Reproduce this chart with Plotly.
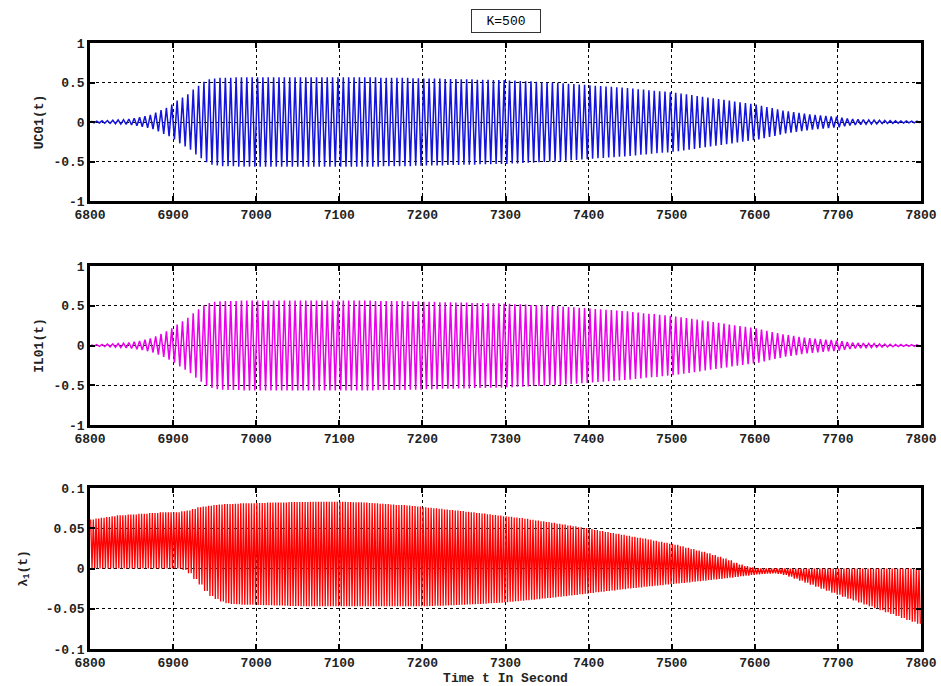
import numpy as np
import plotly.graph_objects as go

# ---- data (peak amplitude per oscillation cycle) ----
T_START = 6800.0
T_END = 7800.0
N_CYCLES = 155

uc01_amp = [
    0.010, 0.012, 0.015, 0.018, 0.022, 0.026, 0.030, 0.038, 0.047, 0.060,
    0.075, 0.090, 0.120, 0.150, 0.180, 0.220, 0.270, 0.310, 0.350, 0.410,
    0.460, 0.510, 0.540, 0.550, 0.560, 0.560, 0.560, 0.565, 0.565, 0.565,
    0.565, 0.565, 0.565, 0.565, 0.565, 0.565, 0.565, 0.565, 0.565, 0.565,
    0.565, 0.565, 0.565, 0.565, 0.565, 0.565, 0.565, 0.565, 0.565, 0.565,
    0.565, 0.565, 0.565, 0.565, 0.560, 0.560, 0.560, 0.560, 0.560, 0.560,
    0.555, 0.555, 0.550, 0.550, 0.550, 0.550, 0.545, 0.545, 0.545, 0.540,
    0.540, 0.540, 0.535, 0.535, 0.535, 0.530, 0.530, 0.530, 0.525, 0.525,
    0.520, 0.515, 0.515, 0.510, 0.505, 0.500, 0.500, 0.495, 0.490, 0.485,
    0.480, 0.475, 0.470, 0.465, 0.460, 0.455, 0.450, 0.445, 0.440, 0.435,
    0.430, 0.425, 0.415, 0.410, 0.400, 0.395, 0.390, 0.385, 0.375, 0.370,
    0.360, 0.350, 0.340, 0.330, 0.320, 0.310, 0.300, 0.290, 0.280, 0.270,
    0.260, 0.250, 0.240, 0.230, 0.220, 0.205, 0.190, 0.175, 0.160, 0.145,
    0.135, 0.125, 0.115, 0.105, 0.097, 0.090, 0.083, 0.077, 0.072, 0.066,
    0.055, 0.045, 0.038, 0.033, 0.030, 0.027, 0.024, 0.021, 0.019, 0.017,
    0.015, 0.013, 0.012, 0.011, 0.010,
]

il01_amp = [
    0.009, 0.011, 0.014, 0.017, 0.021, 0.025, 0.030, 0.037, 0.046, 0.058,
    0.072, 0.088, 0.115, 0.145, 0.178, 0.215, 0.265, 0.305, 0.350, 0.405,
    0.455, 0.505, 0.535, 0.550, 0.555, 0.560, 0.560, 0.560, 0.565, 0.565,
    0.565, 0.565, 0.565, 0.565, 0.565, 0.565, 0.565, 0.565, 0.565, 0.565,
    0.565, 0.565, 0.565, 0.565, 0.565, 0.565, 0.565, 0.565, 0.565, 0.565,
    0.565, 0.565, 0.565, 0.560, 0.560, 0.560, 0.560, 0.560, 0.560, 0.555,
    0.555, 0.555, 0.550, 0.550, 0.550, 0.545, 0.545, 0.545, 0.540, 0.540,
    0.540, 0.535, 0.535, 0.535, 0.530, 0.530, 0.530, 0.525, 0.525, 0.520,
    0.520, 0.515, 0.510, 0.510, 0.505, 0.500, 0.495, 0.495, 0.490, 0.485,
    0.480, 0.475, 0.470, 0.465, 0.460, 0.455, 0.450, 0.445, 0.440, 0.435,
    0.430, 0.420, 0.415, 0.405, 0.400, 0.395, 0.385, 0.380, 0.375, 0.365,
    0.355, 0.345, 0.335, 0.325, 0.315, 0.305, 0.295, 0.285, 0.275, 0.265,
    0.255, 0.245, 0.235, 0.225, 0.215, 0.200, 0.185, 0.170, 0.155, 0.140,
    0.130, 0.120, 0.110, 0.100, 0.093, 0.086, 0.080, 0.074, 0.069, 0.063,
    0.053, 0.044, 0.037, 0.032, 0.029, 0.026, 0.023, 0.020, 0.018, 0.016,
    0.014, 0.012, 0.011, 0.010, 0.009,
]

lambda1_upper = [
    0.061, 0.062, 0.063, 0.064, 0.065, 0.066, 0.066, 0.067, 0.067, 0.068,
    0.068, 0.069, 0.069, 0.070, 0.070, 0.070, 0.070, 0.071, 0.072, 0.074,
    0.076, 0.077, 0.078, 0.079, 0.0795, 0.080, 0.080, 0.0805, 0.081, 0.081,
    0.081, 0.0815, 0.0815, 0.082, 0.082, 0.082, 0.082, 0.0825, 0.0825, 0.0825,
    0.0825, 0.083, 0.083, 0.083, 0.083, 0.083, 0.083, 0.0828, 0.0826, 0.0824,
    0.0822, 0.082, 0.0815, 0.081, 0.0805, 0.080, 0.0795, 0.079, 0.0788, 0.0783,
    0.0776, 0.0769, 0.0762, 0.0755, 0.0748, 0.0741, 0.0734, 0.0727, 0.0720, 0.0713,
    0.0706, 0.0698, 0.0690, 0.0682, 0.0674, 0.0666, 0.0658, 0.0650, 0.0642, 0.0634,
    0.0626, 0.0617, 0.0607, 0.0597, 0.0587, 0.0577, 0.0567, 0.0557, 0.0546, 0.0535,
    0.0524, 0.0513, 0.0502, 0.0490, 0.0478, 0.0466, 0.0454, 0.0442, 0.0430, 0.0418,
    0.0407, 0.0395, 0.0383, 0.0371, 0.0359, 0.0346, 0.0333, 0.0320, 0.0307, 0.0294,
    0.0275, 0.0258, 0.0241, 0.0224, 0.0207, 0.0190, 0.0168, 0.0146, 0.0124, 0.0102,
    0.007, 0.005, 0.003, 0.0015, 0.0005, 0.0, 0.0, 0.0, 0.0, 0.0,
    0.0, 0.0, 0.0, 0.0, 0.0, 0.0, 0.0, 0.0, 0.0, 0.0,
    0.0, 0.0, 0.0, 0.0, 0.0, 0.0, 0.0, 0.0, 0.0, 0.0,
    0.0, 0.0, 0.0, 0.0, 0.0,
]

lambda1_lower = [
    0.0, 0.0, 0.0, 0.0, 0.0, 0.0, 0.0, 0.0, 0.0, 0.0,
    0.0, 0.0, 0.0, 0.0, 0.0, 0.0, 0.0, -0.002, -0.006, -0.013,
    -0.020, -0.028, -0.034, -0.038, -0.041, -0.043, -0.044, -0.0445, -0.045, -0.045,
    -0.045, -0.0452, -0.0455, -0.0457, -0.046, -0.046, -0.0462, -0.0465, -0.0467, -0.047,
    -0.047, -0.047, -0.047, -0.047, -0.047, -0.047, -0.047, -0.047, -0.047, -0.047,
    -0.047, -0.047, -0.047, -0.047, -0.047, -0.047, -0.047, -0.047, -0.047, -0.047,
    -0.047, -0.047, -0.0468, -0.0466, -0.0464, -0.0462, -0.046, -0.0457, -0.0454, -0.0451,
    -0.0448, -0.0445, -0.0441, -0.0437, -0.0433, -0.0429, -0.0425, -0.042, -0.0414, -0.0408,
    -0.0402, -0.0395, -0.0388, -0.0381, -0.0374, -0.0367, -0.036, -0.0352, -0.0344, -0.0336,
    -0.0328, -0.032, -0.0312, -0.0304, -0.0296, -0.0288, -0.028, -0.0272, -0.0264, -0.0256,
    -0.0249, -0.0242, -0.0235, -0.0228, -0.0221, -0.0214, -0.0207, -0.020, -0.0193, -0.0186,
    -0.0179, -0.0172, -0.0165, -0.0158, -0.0151, -0.0144, -0.0137, -0.013, -0.0122, -0.0114,
    -0.0105, -0.0096, -0.0088, -0.008, -0.0072, -0.0066, -0.0062, -0.006, -0.0065, -0.008,
    -0.010, -0.0125, -0.015, -0.0175, -0.020, -0.0225, -0.025, -0.0275, -0.030, -0.0325,
    -0.035, -0.0374, -0.0398, -0.0422, -0.0446, -0.047, -0.0494, -0.0518, -0.0542, -0.0566,
    -0.059, -0.0614, -0.0638, -0.0662, -0.0686,
]

x_ticks = [6800, 6900, 7000, 7100, 7200, 7300, 7400, 7500, 7600, 7700, 7800]
uc_ticks = [-1, -0.5, 0, 0.5, 1]
uc_ticktext = ["-1", "-0.5", "0", "0.5", "1"]
lam_ticks = [-0.1, -0.05, 0, 0.05, 0.1]
lam_ticktext = ["-0.1", "-0.05", "0", "0.05", "0.1"]
title_text = "K=500"

# ---- build traces ----
period = (T_END - T_START) / N_CYCLES
cyc = np.arange(N_CYCLES)

# UC01 / IL01: one peak and one trough per cycle
tt = np.empty(2 * N_CYCLES)
tt[0::2] = T_START + (cyc + 0.25) * period
tt[1::2] = T_START + (cyc + 0.75) * period

uc = np.array(uc01_amp)
il = np.array(il01_amp)
y_uc = np.empty(2 * N_CYCLES); y_uc[0::2] = uc; y_uc[1::2] = -uc
y_il = np.empty(2 * N_CYCLES); y_il[0::2] = il; y_il[1::2] = -il

# lambda1 oscillates at twice the frequency, between its upper and lower envelope
lu = np.array(lambda1_upper)
ll = np.array(lambda1_lower)
tl = np.empty(4 * N_CYCLES)
yl = np.empty(4 * N_CYCLES)
for k, (frac, env) in enumerate([(0.125, lu), (0.375, ll), (0.625, lu), (0.875, ll)]):
    tl[k::4] = T_START + (cyc + frac) * period
    yl[k::4] = env

fig = go.Figure()
fig.add_trace(go.Scatter(x=tt, y=y_uc, mode="lines", line=dict(color="rgb(20,20,220)", width=1.5),
                         xaxis="x", yaxis="y", showlegend=False))
fig.add_trace(go.Scatter(x=tt, y=y_il, mode="lines", line=dict(color="rgb(235,0,235)", width=1.5),
                         xaxis="x2", yaxis="y2", showlegend=False))
fig.add_trace(go.Scatter(x=tl, y=yl, mode="lines", line=dict(color="rgb(255,0,0)", width=1.3),
                         xaxis="x3", yaxis="y3", showlegend=False))

FONT = "Liberation Mono"
tickfont = dict(family=FONT, size=13, color="#222", weight="bold")
common_x = dict(range=[T_START, T_END], tickvals=x_ticks, showgrid=True, gridcolor="black",
                griddash="dot", gridwidth=1, showline=True, linecolor="black", linewidth=2.5,
                mirror="allticks", ticks="inside", ticklen=5, tickwidth=2, tickcolor="black",
                tickfont=tickfont, zeroline=False, automargin=False)
common_y = dict(showgrid=True, gridcolor="black", griddash="dot", gridwidth=1, showline=True,
                linecolor="black", linewidth=2.5, mirror="allticks", ticks="inside", ticklen=5,
                tickwidth=2, tickcolor="black", tickfont=tickfont, zeroline=False, automargin=False)
ytitle_font = dict(family=FONT, size=13, color="#222", weight="bold")

H = 686
top_px, bot_px = 43, 649
ph = bot_px - top_px


def dom(y0, y1):
    return [(bot_px - y1) / ph, (bot_px - y0) / ph]


fig.update_layout(
    width=941, height=686,
    margin=dict(l=90, r=20, t=top_px, b=H - bot_px, autoexpand=False),
    plot_bgcolor="white", paper_bgcolor="white",
    xaxis=dict(common_x, anchor="y"),
    xaxis2=dict(common_x, anchor="y2"),
    xaxis3=dict(common_x, anchor="y3",
                title=dict(text="Time t In Second", font=ytitle_font, standoff=6)),
    yaxis=dict(common_y, range=[-1, 1], tickvals=uc_ticks, ticktext=uc_ticktext,
               domain=dom(43, 201), anchor="x",
               title=dict(text="UC01(t)", font=ytitle_font, standoff=7)),
    yaxis2=dict(common_y, range=[-1, 1], tickvals=uc_ticks, ticktext=uc_ticktext,
                domain=dom(266, 425), anchor="x2",
                title=dict(text="IL01(t)", font=ytitle_font, standoff=7)),
    yaxis3=dict(common_y, range=[-0.1, 0.1], tickvals=lam_ticks, ticktext=lam_ticktext,
                domain=dom(488, 649), anchor="x3",
                title=dict(text="λ<sub>1</sub>(t)", font=ytitle_font, standoff=16)),
    annotations=[dict(text=title_text, xref="paper", yref="paper", x=0.5, y=1.0,
                      yshift=22, showarrow=False, font=dict(family=FONT, size=13, color="black"),
                      bordercolor="#333", borderwidth=1, borderpad=3, bgcolor="white",
                      width=62, height=16, xanchor="center", yanchor="middle")],
)

fig.write_html("out.html", config={"displayModeBar": False},
               post_script="document.body.style.margin='0';")
